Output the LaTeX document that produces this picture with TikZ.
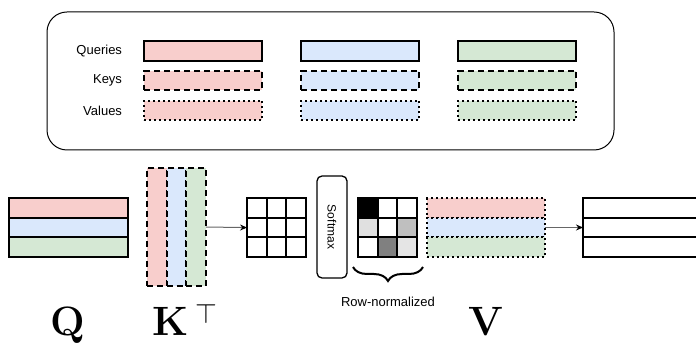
\documentclass[tikz,border=0pt]{standalone}
\usepackage{fontspec}
\newfontfamily\labelfont{Liberation Sans}
\usepackage{xcolor}
\usepackage{tikz}
\usetikzlibrary{positioning, arrows.meta, decorations.pathreplacing}

\definecolor{qred}{HTML}{F8CECC}
\definecolor{kblue}{HTML}{DAE8FC}
\definecolor{vgreen}{HTML}{D5E8D4}

\begin{document}
\begin{tikzpicture}[
    x=1pt, y=-1pt,
    every node/.style={inner sep=0pt, outer sep=0pt},
    txt/.style={font=\labelfont\fontsize{13}{15}\selectfont},
    solidbar/.style={draw=black, line width=2pt, minimum width=118pt, minimum height=19.5pt},
    dashbar/.style={solidbar, dash pattern=on 6pt off 4pt},
    dotbar/.style={solidbar, dash pattern=on 2pt off 3pt},
    kcol/.style={draw=black, line width=2pt, dash pattern=on 6pt off 4pt, minimum width=19.7pt, minimum height=118pt},
    cell/.style={draw=black, line width=2pt, minimum size=19.7pt},
    softbox/.style={draw=black, line width=1.3pt, rounded corners=5pt, minimum width=102pt, minimum height=30pt, txt, font=\labelfont\fontsize{12}{14}\selectfont},
    arrow/.style={-{Stealth[length=7pt, width=6pt, color=black]}, line width=1pt, draw=black!60},
    bigletter/.style={font=\fontsize{41}{44}\selectfont\bfseries}
]
    \useasboundingbox (0,0) rectangle (696,344);

    % Legend
    \node[draw=black, line width=1pt, rounded corners=20pt, minimum width=567pt, minimum height=138pt] (legend) at (330.5,81) {};
    \node[txt, anchor=east] (lq) at (122,51) {Queries};
    \node[txt, anchor=east] (lk) at (122,80.5) {Keys};
    \node[txt, anchor=east] (lv) at (122,110.5) {Values};
    \foreach \col [count=\i] in {qred, kblue, vgreen} {
        \pgfmathsetmacro\bx{203+157*(\i-1)}
        \node[solidbar, fill=\col] (lq\i) at (\bx,51) {};
        \node[dashbar, fill=\col] (lk\i) at (\bx,80.5) {};
        \node[dotbar, fill=\col] (lv\i) at (\bx,110.5) {};
    }

    % Q
    \node[solidbar, fill=qred, minimum width=119pt] (q1) at (68.5,207.8) {};
    \node[solidbar, fill=kblue, minimum width=119pt] (q2) at (68.5,227.5) {};
    \node[solidbar, fill=vgreen, minimum width=119pt] (q3) at (68.5,247.2) {};

    % K transposed
    \node[kcol, fill=qred] (kt1) at (156.8,227) {};
    \node[kcol, fill=kblue] (kt2) at (176.5,227) {};
    \node[kcol, fill=vgreen] (kt3) at (196.2,227) {};

    % Scores
    \foreach \r in {1,2,3} {
        \foreach \c in {1,2,3} {
            \node[cell] (a-\r-\c) at ({256.9+19.7*(\c-1)},{207.9+19.7*(\r-1)}) {};
        }
    }

    \node[softbox, rotate=-90] (softmax) at (332,227) {Softmax};

    % Row-normalized weights
    \foreach \r/\c/\shade in {1/1/black, 1/2/white, 1/3/white, 2/1/black!12, 2/2/white, 2/3/black!25, 3/1/white, 3/2/black!50, 3/3/black!10} {
        \node[cell, fill=\shade] (b-\r-\c) at ({367.9+19.7*(\c-1)},{207.9+19.7*(\r-1)}) {};
    }
    \coordinate (braceL) at (353,267);
    \coordinate (braceR) at (423,267);
    \draw[decorate, decoration={brace, mirror, amplitude=14pt}, line width=2pt] (braceL) -- (braceR);
    \node[txt] (rownorm) at (388,302) {Row-normalized};

    % V
    \node[dotbar, fill=qred] (v1) at (486,207.8) {};
    \node[dotbar, fill=kblue] (v2) at (486,227.5) {};
    \node[dotbar, fill=vgreen] (v3) at (486,247.2) {};

    % Output
    \node[solidbar, minimum width=122pt] (o1) at (644,207.8) {};
    \node[solidbar, minimum width=122pt] (o2) at (644,227.5) {};
    \node[solidbar, minimum width=122pt] (o3) at (644,247.2) {};

    \draw[arrow] (kt3.east) -- (a-2-1.west);
    \draw[arrow] (v2.east) -- (o2.west);

    % Labels
    \node[bigletter, anchor=base] (qlabel) at (68,336) {Q};
    \node[bigletter, anchor=base west] (klabel) at (152,336) {K\hspace{7pt}\raisebox{13pt}{\fontsize{10}{12}\selectfont\scalebox{2.8}{$\top$}}};
    \node[bigletter, anchor=base] (vlabel) at (486,336) {V};

\end{tikzpicture}
\end{document}
